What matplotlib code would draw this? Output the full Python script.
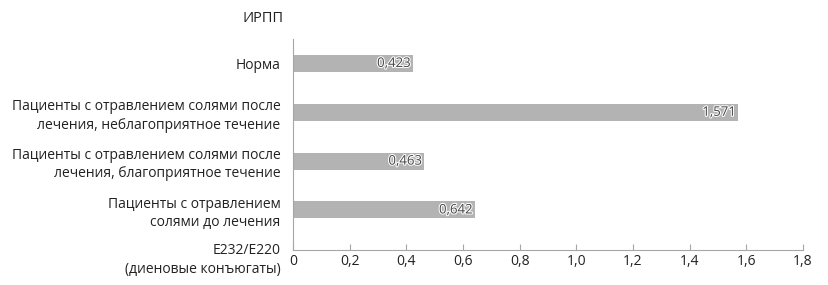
import matplotlib.pyplot as plt
import matplotlib.patheffects as pe

categories = [
    "Пациенты с отравлением\nсолями до лечения",
    "Пациенты с отравлением солями после\nлечения, благоприятное течение",
    "Пациенты с отравлением солями после\nлечения, неблагоприятное течение",
    "Норма",
]
values = [0.642, 0.463, 1.571, 0.423]
value_labels = ["0,642", "0,463", "1,571", "0,423"]
xticks = [0, 0.2, 0.4, 0.6, 0.8, 1.0, 1.2, 1.4, 1.6, 1.8]
xtick_labels = ["0", "0,2", "0,4", "0,6", "0,8", "1,0", "1,2", "1,4", "1,6", "1,8"]

plt.rcParams.update({
    "font.family": ["Open Sans", "DejaVu Sans"],
    "font.size": 10,
})

fig = plt.figure(figsize=(8.29, 2.85), dpi=100)
ax = fig.add_axes([293 / 829, 1 - 250 / 285, (803 - 293) / 829, (250 - 39) / 285])

ypos = range(len(categories))
ax.barh(ypos, values, height=0.35, color="#b3b3b3")
for y, v, lab in zip(ypos, values, value_labels):
    ax.text(v - 0.008, y, lab, ha="right", va="center", fontsize=9.5, color="#444444",
            path_effects=[pe.withStroke(linewidth=1.5, foreground="white")])

ax.set_xlim(0, 1.8)
ax.set_ylim(-0.82, 3.5)
ax.set_xticks(xticks)
ax.set_xticklabels(xtick_labels, color="#222222")
ax.set_yticks(list(ypos))
ax.set_yticklabels(categories, linespacing=1.3, color="#222222")
ax.tick_params(axis="y", length=0, pad=9)
ax.tick_params(axis="x", direction="in", length=4, color="#a6a6a6", pad=3)
for s in ["top", "right"]:
    ax.spines[s].set_visible(False)
ax.spines["left"].set_color("#a6a6a6")
ax.spines["bottom"].set_color("#a6a6a6")

fig.text(263 / 829, 1 - 18 / 285, "ИРПП", ha="center", va="center", fontsize=10.5, color="#222222")
fig.text(281 / 829, 1 - 260 / 285, "E232/E220\n(диеновые конъюгаты)", ha="right", va="center",
         fontsize=10, linespacing=1.3, color="#222222")

fig.savefig("out.png", dpi=100)
